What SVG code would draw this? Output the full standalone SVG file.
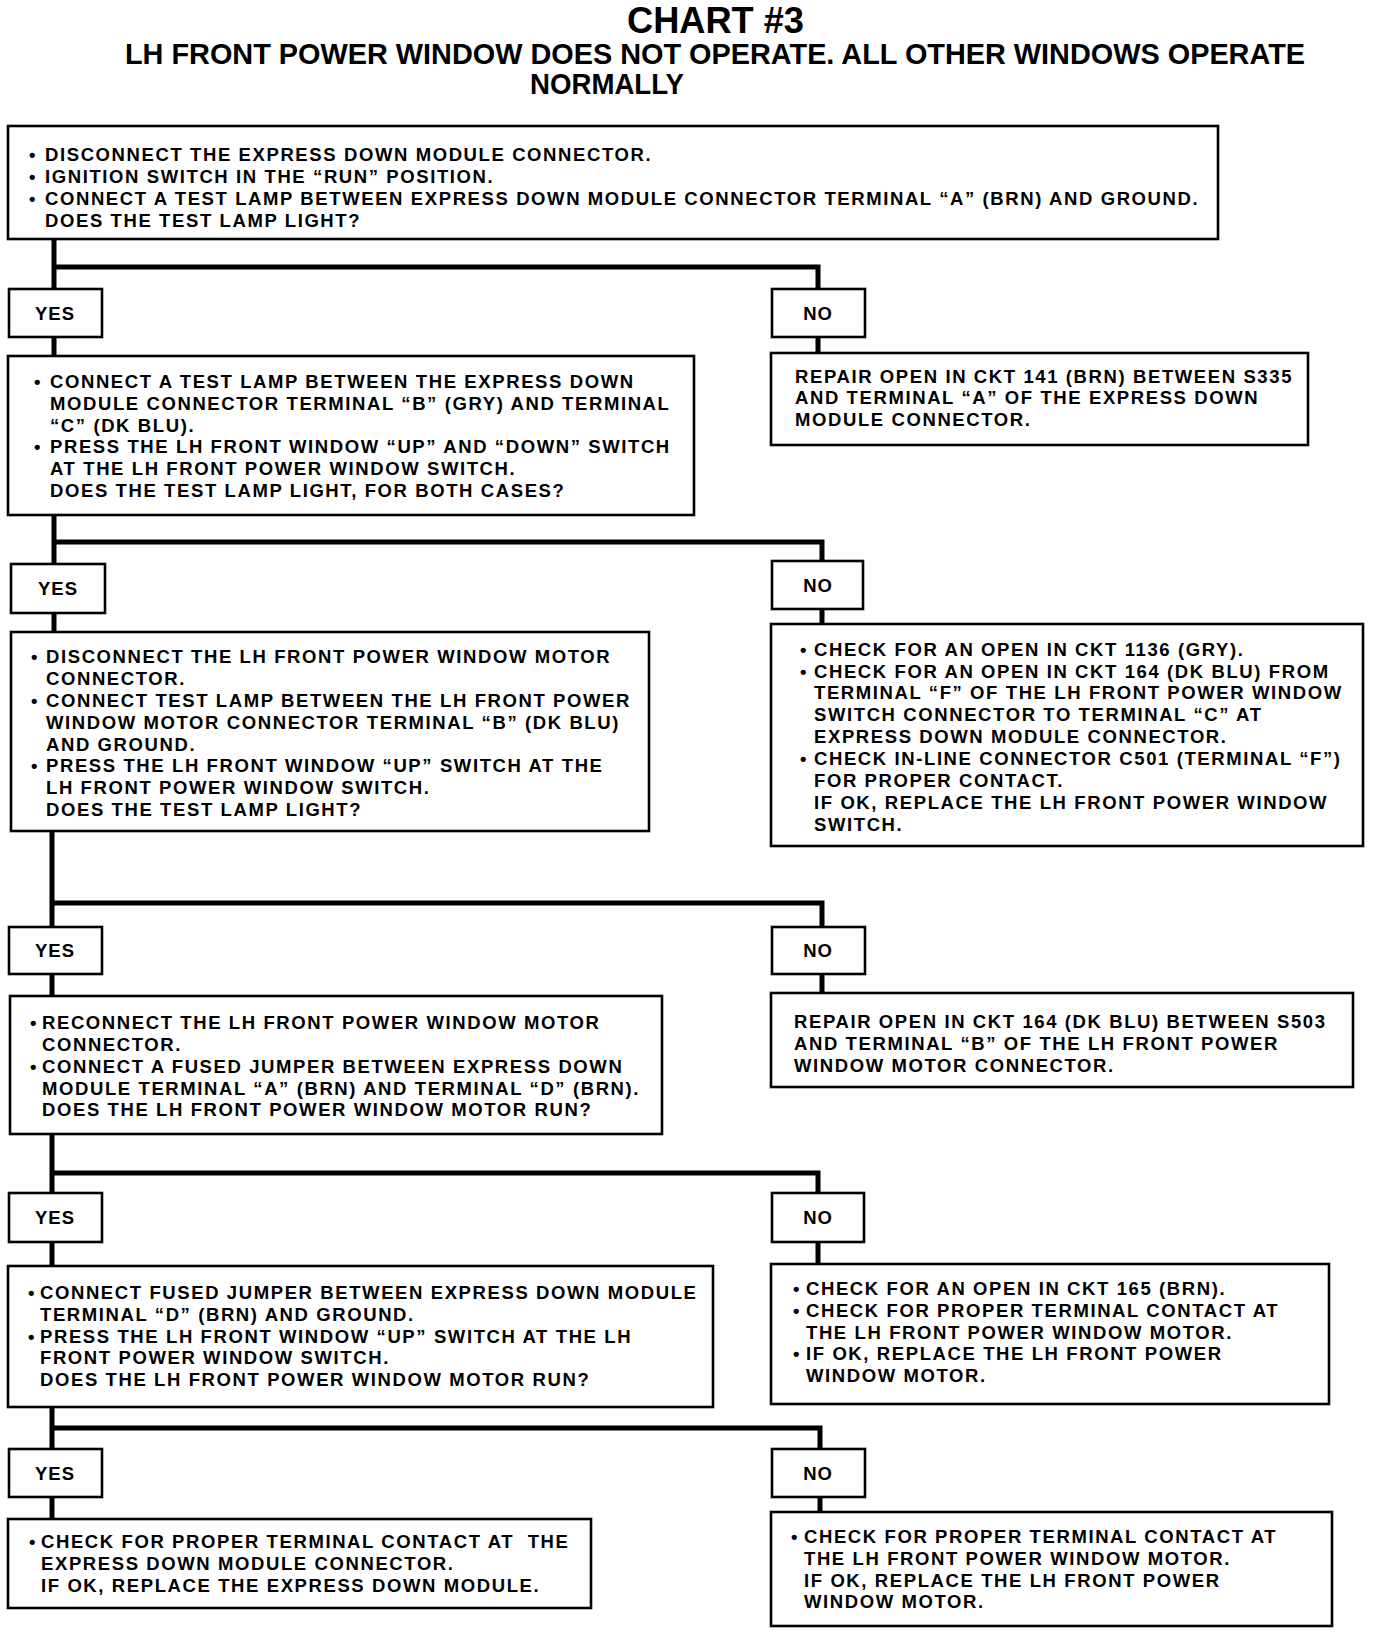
<svg xmlns="http://www.w3.org/2000/svg" width="1376" height="1634" viewBox="0 0 1376 1634">
<style>
.bg{fill:#fff}
.box{fill:#fff;stroke:#000;stroke-width:2.6}
.conn{fill:none;stroke:#000;stroke-width:5}
.t{font-family:"Liberation Sans",Arial,Helvetica,sans-serif;font-weight:bold;font-size:18.5px;letter-spacing:1.6px;fill:#000}
.lbl{font-family:"Liberation Sans",Arial,Helvetica,sans-serif;font-weight:bold;font-size:18.5px;letter-spacing:1px;fill:#000;text-anchor:middle}
.h1{font-family:"Liberation Sans",Arial,Helvetica,sans-serif;font-weight:bold;font-size:36px;fill:#000}
.h2{font-family:"Liberation Sans",Arial,Helvetica,sans-serif;font-weight:bold;font-size:30px;fill:#000}
</style>
<rect class="bg" x="0" y="0" width="1376" height="1634"/>
<g id="title">
<text class="h1" x="627" y="33" textLength="177" lengthAdjust="spacingAndGlyphs">CHART #3</text>
<text class="h2" x="125" y="64" textLength="1180" lengthAdjust="spacingAndGlyphs">LH FRONT POWER WINDOW DOES NOT OPERATE. ALL OTHER WINDOWS OPERATE</text>
<text class="h2" x="530" y="94" textLength="154" lengthAdjust="spacingAndGlyphs">NORMALLY</text>
</g>
<g id="connectors">
<path class="conn" d="M54 239 V289 M54 267 H818 V289 M54 337 V356 M818 337 V353"/>
<path class="conn" d="M54 515 V564 M54 542 H822 V561 M54 613 V632 M822 609 V624"/>
<path class="conn" d="M52 831 V927 M52 903 H822 V927 M52 974 V996 M822 974 V993"/>
<path class="conn" d="M52 1134 V1193 M52 1173 H818 V1193 M52 1242 V1266 M818 1242 V1264"/>
<path class="conn" d="M52 1407 V1449 M52 1428 H820 V1449 M52 1497 V1519 M820 1497 V1512"/>
</g>
<g id="n1">
<rect class="box" x="8" y="126" width="1210" height="113"/>
<text class="t"><tspan x="29" y="161">•</tspan><tspan x="45">DISCONNECT THE EXPRESS DOWN MODULE CONNECTOR.</tspan><tspan x="29" y="183">•</tspan><tspan x="45">IGNITION SWITCH IN THE “RUN” POSITION.</tspan><tspan x="29" y="205">•</tspan><tspan x="45">CONNECT A TEST LAMP BETWEEN EXPRESS DOWN MODULE CONNECTOR TERMINAL “A” (BRN) AND GROUND.</tspan><tspan x="45" y="227">DOES THE TEST LAMP LIGHT?</tspan></text>
</g>
<g id="yes1"><rect class="box" x="9" y="289" width="93" height="48"/><text class="lbl" x="55" y="320">YES</text></g>
<g id="no1"><rect class="box" x="772" y="289" width="93" height="48"/><text class="lbl" x="818" y="320">NO</text></g>
<g id="n2">
<rect class="box" x="8" y="356" width="686" height="159"/>
<text class="t"><tspan x="34" y="388">•</tspan><tspan x="50">CONNECT A TEST LAMP BETWEEN THE EXPRESS DOWN</tspan><tspan x="50" y="410">MODULE CONNECTOR TERMINAL “B” (GRY) AND TERMINAL</tspan><tspan x="50" y="432">“C” (DK BLU).</tspan><tspan x="34" y="453">•</tspan><tspan x="50">PRESS THE LH FRONT WINDOW “UP” AND “DOWN” SWITCH</tspan><tspan x="50" y="475">AT THE LH FRONT POWER WINDOW SWITCH.</tspan><tspan x="50" y="497">DOES THE TEST LAMP LIGHT, FOR BOTH CASES?</tspan></text>
</g>
<g id="r1">
<rect class="box" x="771" y="353" width="537" height="92"/>
<text class="t"><tspan x="795" y="383">REPAIR OPEN IN CKT 141 (BRN) BETWEEN S335</tspan><tspan x="795" y="404">AND TERMINAL “A” OF THE EXPRESS DOWN</tspan><tspan x="795" y="426">MODULE CONNECTOR.</tspan></text>
</g>
<g id="yes2"><rect class="box" x="11" y="564" width="94" height="49"/><text class="lbl" x="58" y="595">YES</text></g>
<g id="no2"><rect class="box" x="772" y="561" width="91" height="48"/><text class="lbl" x="818" y="592">NO</text></g>
<g id="n3">
<rect class="box" x="11" y="632" width="638" height="199"/>
<text class="t"><tspan x="31" y="663">•</tspan><tspan x="46">DISCONNECT THE LH FRONT POWER WINDOW MOTOR</tspan><tspan x="46" y="685">CONNECTOR.</tspan><tspan x="31" y="707">•</tspan><tspan x="46">CONNECT TEST LAMP BETWEEN THE LH FRONT POWER</tspan><tspan x="46" y="729">WINDOW MOTOR CONNECTOR TERMINAL “B” (DK BLU)</tspan><tspan x="46" y="751">AND GROUND.</tspan><tspan x="31" y="772">•</tspan><tspan x="46">PRESS THE LH FRONT WINDOW “UP” SWITCH AT THE</tspan><tspan x="46" y="794">LH FRONT POWER WINDOW SWITCH.</tspan><tspan x="46" y="816">DOES THE TEST LAMP LIGHT?</tspan></text>
</g>
<g id="r2">
<rect class="box" x="771" y="624" width="592" height="222"/>
<text class="t"><tspan x="800" y="656">•</tspan><tspan x="814">CHECK FOR AN OPEN IN CKT 1136 (GRY).</tspan><tspan x="800" y="678">•</tspan><tspan x="814">CHECK FOR AN OPEN IN CKT 164 (DK BLU) FROM</tspan><tspan x="814" y="699">TERMINAL “F” OF THE LH FRONT POWER WINDOW</tspan><tspan x="814" y="721">SWITCH CONNECTOR TO TERMINAL “C” AT</tspan><tspan x="814" y="743">EXPRESS DOWN MODULE CONNECTOR.</tspan><tspan x="800" y="765">•</tspan><tspan x="814">CHECK IN-LINE CONNECTOR C501 (TERMINAL “F”)</tspan><tspan x="814" y="787">FOR PROPER CONTACT.</tspan><tspan x="814" y="809">IF OK, REPLACE THE LH FRONT POWER WINDOW</tspan><tspan x="814" y="831">SWITCH.</tspan></text>
</g>
<g id="yes3"><rect class="box" x="9" y="927" width="93" height="47"/><text class="lbl" x="55" y="957">YES</text></g>
<g id="no3"><rect class="box" x="772" y="927" width="93" height="47"/><text class="lbl" x="818" y="957">NO</text></g>
<g id="n4">
<rect class="box" x="10" y="996" width="652" height="138"/>
<text class="t"><tspan x="30" y="1029">•</tspan><tspan x="42">RECONNECT THE LH FRONT POWER WINDOW MOTOR</tspan><tspan x="42" y="1051">CONNECTOR.</tspan><tspan x="30" y="1073">•</tspan><tspan x="42">CONNECT A FUSED JUMPER BETWEEN EXPRESS DOWN</tspan><tspan x="42" y="1095">MODULE TERMINAL “A” (BRN) AND TERMINAL “D” (BRN).</tspan><tspan x="42" y="1116">DOES THE LH FRONT POWER WINDOW MOTOR RUN?</tspan></text>
</g>
<g id="r3">
<rect class="box" x="771" y="993" width="582" height="94"/>
<text class="t"><tspan x="794" y="1028">REPAIR OPEN IN CKT 164 (DK BLU) BETWEEN S503</tspan><tspan x="794" y="1050">AND TERMINAL “B” OF THE LH FRONT POWER</tspan><tspan x="794" y="1072">WINDOW MOTOR CONNECTOR.</tspan></text>
</g>
<g id="yes4"><rect class="box" x="9" y="1193" width="93" height="49"/><text class="lbl" x="55" y="1224">YES</text></g>
<g id="no4"><rect class="box" x="772" y="1193" width="92" height="49"/><text class="lbl" x="818" y="1224">NO</text></g>
<g id="n5">
<rect class="box" x="8" y="1266" width="705" height="141"/>
<text class="t"><tspan x="28" y="1299">•</tspan><tspan x="40">CONNECT FUSED JUMPER BETWEEN EXPRESS DOWN MODULE</tspan><tspan x="40" y="1321">TERMINAL “D” (BRN) AND GROUND.</tspan><tspan x="28" y="1343">•</tspan><tspan x="40">PRESS THE LH FRONT WINDOW “UP” SWITCH AT THE LH</tspan><tspan x="40" y="1364">FRONT POWER WINDOW SWITCH.</tspan><tspan x="40" y="1386">DOES THE LH FRONT POWER WINDOW MOTOR RUN?</tspan></text>
</g>
<g id="r4">
<rect class="box" x="771" y="1264" width="558" height="140"/>
<text class="t"><tspan x="793" y="1295">•</tspan><tspan x="806">CHECK FOR AN OPEN IN CKT 165 (BRN).</tspan><tspan x="793" y="1317">•</tspan><tspan x="806">CHECK FOR PROPER TERMINAL CONTACT AT</tspan><tspan x="806" y="1339">THE LH FRONT POWER WINDOW MOTOR.</tspan><tspan x="793" y="1360">•</tspan><tspan x="806">IF OK, REPLACE THE LH FRONT POWER</tspan><tspan x="806" y="1382">WINDOW MOTOR.</tspan></text>
</g>
<g id="yes5"><rect class="box" x="9" y="1449" width="93" height="48"/><text class="lbl" x="55" y="1480">YES</text></g>
<g id="no5"><rect class="box" x="772" y="1449" width="93" height="48"/><text class="lbl" x="818" y="1480">NO</text></g>
<g id="n6">
<rect class="box" x="8" y="1519" width="583" height="89"/>
<text class="t" style="white-space:pre"><tspan x="29" y="1548">•</tspan><tspan x="41">CHECK FOR PROPER TERMINAL CONTACT AT  THE</tspan><tspan x="41" y="1570">EXPRESS DOWN MODULE CONNECTOR.</tspan><tspan x="41" y="1592">IF OK, REPLACE THE EXPRESS DOWN MODULE.</tspan></text>
</g>
<g id="r5">
<rect class="box" x="771" y="1512" width="561" height="114"/>
<text class="t"><tspan x="791" y="1543">•</tspan><tspan x="804">CHECK FOR PROPER TERMINAL CONTACT AT</tspan><tspan x="804" y="1565">THE LH FRONT POWER WINDOW MOTOR.</tspan><tspan x="804" y="1587">IF OK, REPLACE THE LH FRONT POWER</tspan><tspan x="804" y="1608">WINDOW MOTOR.</tspan></text>
</g>
</svg>
